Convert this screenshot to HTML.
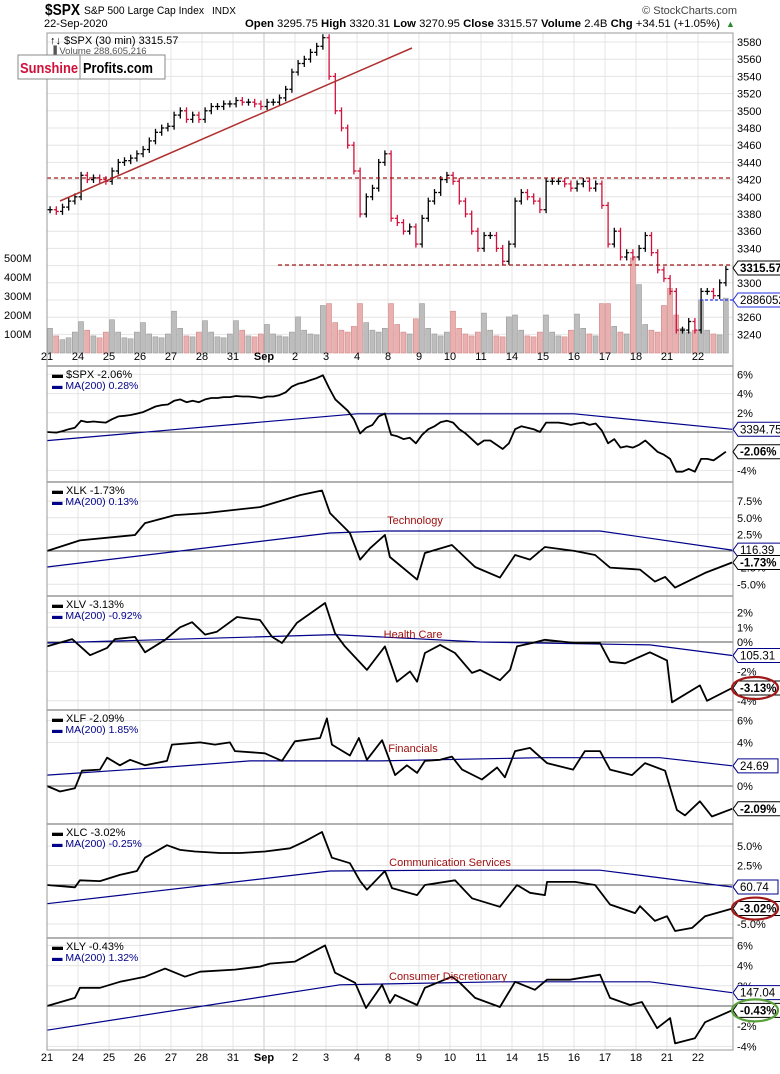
<!DOCTYPE html>
<html><head><meta charset="utf-8"><style>
html,body{margin:0;padding:0;background:#fff;}
body{width:780px;height:1069px;overflow:hidden;font-family:"Liberation Sans",sans-serif;}
svg text{font-family:"Liberation Sans",sans-serif;}
</style></head><body>
<svg id="chart" width="780" height="1069" viewBox="0 0 780 1069" xmlns="http://www.w3.org/2000/svg">
<rect x="0" y="0" width="780" height="1069" fill="#fff"/>
<g>
<text x="45" y="15" font-size="16" font-weight="bold" fill="#000" textLength="35" lengthAdjust="spacingAndGlyphs">$SPX</text>
<text x="84" y="14" font-size="11" fill="#000" textLength="120" lengthAdjust="spacingAndGlyphs">S&amp;P 500 Large Cap Index</text>
<text x="212" y="14" font-size="10" fill="#000">INDX</text>
<text x="44" y="27" font-size="11" fill="#000">22-Sep-2020</text>
<text x="245" y="27" font-size="11" fill="#000" textLength="475" lengthAdjust="spacingAndGlyphs"><tspan font-weight="bold">Open</tspan> 3295.75 <tspan font-weight="bold">High</tspan> 3320.31 <tspan font-weight="bold">Low</tspan> 3270.95 <tspan font-weight="bold">Close</tspan> 3315.57 <tspan font-weight="bold">Volume</tspan> 2.4B <tspan font-weight="bold">Chg</tspan> +34.51 (+1.05%)</text>
<text x="726" y="27" font-size="9" fill="#2a8a2a">▲</text>
<text x="737" y="14" font-size="11" fill="#444" text-anchor="end">© StockCharts.com</text>
</g>
<g id="grid"></g>
<g id="marks"></g>
<g id="labels"></g>
<g>
<rect x="18" y="55" width="147" height="24" fill="#fff" stroke="#888"/>
<line x1="80" y1="55" x2="80" y2="79" stroke="#888"/>
<text x="20" y="73" font-size="15" font-weight="bold" fill="#d0103a" textLength="58" lengthAdjust="spacingAndGlyphs">Sunshine</text>
<text x="83" y="73" font-size="15" font-weight="bold" fill="#000" textLength="70" lengthAdjust="spacingAndGlyphs">Profits.com</text>
</g>
</svg>
<script>
// ---- data ----
const dayLabels = ["21","24","25","26","27","28","31","Sep","2","3","4","8","9","10","11","14","15","16","17","18","21","22"];
const priceCloses = [
3385,3383,3388,3395,3400, 3425,3420,3422,3420,3418, 3430,3440,3442,3445,3450,
3455,3465,3475,3480,3482, 3495,3500,3490,3495,3490, 3500,3505,3505,3508,3508,
3512,3510,3510,3508,3505, 3510,3510,3515,3525,3545, 3555,3560,3568,3575,3585,
3540,3500,3480,3460,3430, 3380,3400,3410,3440,3450, 3375,3370,3360,3365,3345,
3375,3395,3405,3420,3425, 3418,3395,3380,3360,3340, 3355,3355,3340,3325,3345,
3395,3405,3400,3395,3385, 3418,3418,3418,3415,3410, 3415,3418,3410,3415,3390,
3345,3360,3330,3335,3330, 3340,3355,3335,3315,3305, 3290,3245,3245,3255,3245,
3290,3290,3285,3300,3315.57];
const volumesM = [
130,90,70,80,110, 165,120,90,80,110, 175,110,80,75,110, 160,100,85,80,100,
220,130,90,85,110, 170,110,85,80,100, 170,120,90,85,100, 150,100,90,85,110,
190,120,100,95,250, 260,160,120,110,140, 260,160,120,110,130, 260,150,110,100,180,
260,130,100,90,110, 220,130,100,90,110, 210,120,90,85,190, 200,120,90,85,110,
200,110,90,85,120, 205,130,100,90,260, 260,140,110,100,500, 360,150,120,110,250,
340,200,130,110,120, 280,120,100,95,288.6];
const spxMaT = [0,10,17,22.1];
const spxMaV = [-0.9,1.9,1.9,0.28];
const xlkT = [0,1.06,2.84,3.16,4.13,5.1,6.87,8.16,8.87,9.13,9.77,10.1,10.42,10.9,11.06,11.94,12.19,13.06,13.81,14.61,15.1,15.58,16.06,17.03,17.68,18.16,19.13,19.61,19.94,20.26,21.23,22.1];
const xlkV = [0,1.6,2.4,4.2,5.4,5.7,6.6,8.4,9.1,5.7,2.7,-1.3,0.4,2.4,-0.9,-4.3,-0.3,0.9,-2.4,-4.0,-0.6,-1.3,0.6,0,-0.6,-2.5,-2.8,-4.6,-3.9,-5.5,-3.3,-1.73];
const xlkMaT = [0,9.13,10.9,17.84,22.1];
const xlkMaV = [-2.4,2.7,3.0,3.0,0.13];
const xlvT = [0,0.81,1.39,1.94,2.19,2.84,3.16,3.81,4.29,4.68,5.1,5.48,6.13,6.87,7.26,7.58,8.06,8.97,9.29,9.61,10.32,10.9,11.29,11.71,11.94,12.19,12.68,13.16,13.71,13.97,14.61,14.94,15.16,15.65,16.06,17.03,17.84,18.16,18.65,19.45,20.0,20.16,21.06,21.29,22.1];
const xlvV = [-0.3,0.2,-0.9,-0.4,0.2,0.35,-0.7,0.15,1.0,1.35,0.5,0.7,1.7,1.5,0.35,-0.07,1.3,2.65,0.6,-0.3,-1.9,-0.3,-2.7,-2.0,-2.7,-0.75,-0.2,-0.75,-2.1,-1.9,-2.6,-1.9,-0.3,-0.07,0.15,-0.07,-0.07,-1.35,-1.45,-0.7,-1.25,-4.1,-2.95,-4.0,-3.13];
const xlvMaT = [0,9.29,13.97,19.45,22.1];
const xlvMaV = [-0.07,0.5,0,-0.2,-0.92];
const xlfT = [0,0.42,0.9,1.13,1.71,1.94,2.35,2.68,3.16,3.87,4.03,4.94,5.42,5.9,6.06,7.03,7.58,8.0,8.81,9.03,9.19,9.77,10.06,10.32,10.81,11.23,11.61,11.94,12.19,12.68,13.06,13.39,14.03,14.52,14.77,15.1,15.58,16.13,16.97,17.35,17.84,18.16,18.87,19.29,19.94,20.32,20.58,21.06,21.45,22.1];
const xlfV = [0,-0.5,-0.2,1.4,1.5,2.6,1.9,2.4,1.9,2.3,3.8,4.0,3.8,4.0,3.2,3.0,2.3,4.1,4.4,6.2,3.8,2.8,4.4,2.4,4.2,1.0,1.9,1.2,2.3,2.4,2.7,1.5,0.6,1.7,0.8,3.2,3.5,2.1,1.5,3.2,3.2,1.5,1.0,2.1,1.4,-2.2,-2.7,-1.4,-2.8,-2.09];
const xlfMaT = [0,3.97,6.55,10.74,15.9,19.77,22.1];
const xlfMaV = [1.0,1.75,2.3,2.3,2.6,2.6,1.85];
const xlcT = [0,0.9,1.06,1.71,2.35,2.9,3.16,3.87,4.29,4.77,5.58,6.23,7.03,7.84,8.32,8.87,9.19,9.77,10.1,10.32,10.9,11.13,11.94,12.19,13.16,13.71,14.61,15.16,15.58,16.06,16.13,17.03,17.68,18.16,18.97,19.13,19.61,20.0,20.26,20.81,21.23,22.1];
const xlcV = [0,-0.3,0.6,0.5,1.3,1.8,3.5,5.1,4.5,4.3,4.1,4.1,4.3,4.7,5.6,6.8,3.5,2.8,0.5,-0.6,1.8,-0.4,-1.3,0,0.6,-1.7,-2.8,0,-1.0,-1.3,0.4,0.4,0,-2.5,-3.6,-2.7,-4.6,-4.0,-5.9,-5.5,-4.0,-3.02];
const xlcMaT = [0,9.13,13.0,17.84,22.1];
const xlcMaV = [-2.4,1.8,1.9,1.9,-0.25];
const xlyT = [0,0.9,1.06,1.71,2.35,3.16,3.81,4.45,4.94,6.06,6.87,7.19,8.0,8.97,9.29,9.94,10.29,10.81,11.06,11.23,11.94,12.19,13.06,13.32,13.81,14.61,15.1,15.74,16.13,16.87,17.84,18.16,18.81,19.19,19.68,20.1,20.26,20.9,21.23,22.1];
const xlyV = [0,0.8,1.8,1.8,2.4,2.9,3.7,2.9,3.4,3.6,3.9,4.2,4.4,6.0,3.3,2.3,-0.2,2.1,0.3,1.1,0.1,1.8,2.9,2.3,0.8,-0.1,2.4,1.6,2.6,2.6,3.1,0.8,0.1,0.4,-2.2,-1.2,-3.7,-3.2,-1.6,-0.43];
const xlyMaT = [0,9.45,14.61,19.45,22.1];
const xlyMaV = [-2.4,2.1,2.4,2.4,1.32];

// ---- layout ----
const L = 47, R = 733, DAYW = 31;
const NS = "http://www.w3.org/2000/svg";
const grid = document.getElementById('grid'), marks = document.getElementById('marks'), labels = document.getElementById('labels');
function mk(tag, attrs, parent){ const e=document.createElementNS(NS,tag); for(const k in attrs) e.setAttribute(k,attrs[k]); parent.appendChild(e); return e; }
function xT(t){ return L + t*DAYW; }
const priceY = v => 42 + (3580 - v)*0.86;
const volY = m => 353 - m*0.19;

const panels = [
 {name:'spx', top:366, bot:482, zero:432, ppu:9.6, ticks:[6,4,2,-4], fmt:v=>v+'%', t:null, v:null, mt:spxMaT, mv:spxMaV, label:'$SPX -2.06%', ma:'MA(200) 0.28%', title:'', maTag:'3394.75', tag:'-2.06%', ring:null},
 {name:'xlk', top:482, bot:596, zero:551, ppu:6.65, ticks:[7.5,5,2.5,-2.5,-5], fmt:v=>v.toFixed(1)+'%', t:xlkT, v:xlkV, mt:xlkMaT, mv:xlkMaV, label:'XLK -1.73%', ma:'MA(200) 0.13%', title:'Technology', maTag:'116.39', tag:'-1.73%', ring:null},
 {name:'xlv', top:596, bot:710, zero:642, ppu:14.7, ticks:[2,1,0,-2,-4], fmt:v=>v+'%', t:xlvT, v:xlvV, mt:xlvMaT, mv:xlvMaV, label:'XLV -3.13%', ma:'MA(200) -0.92%', title:'Health Care', maTag:'105.31', tag:'-3.13%', ring:'#a01818'},
 {name:'xlf', top:710, bot:824, zero:786, ppu:10.9, ticks:[6,4,0], fmt:v=>v+'%', t:xlfT, v:xlfV, mt:xlfMaT, mv:xlfMaV, label:'XLF -2.09%', ma:'MA(200) 1.85%', title:'Financials', maTag:'24.69', tag:'-2.09%', ring:null},
 {name:'xlc', top:824, bot:938, zero:885, ppu:7.8, ticks:[5,2.5,-2.5,-5], fmt:v=>v.toFixed(1)+'%', t:xlcT, v:xlcV, mt:xlcMaT, mv:xlcMaV, label:'XLC -3.02%', ma:'MA(200) -0.25%', title:'Communication Services', maTag:'60.74', tag:'-3.02%', ring:'#a01818'},
 {name:'xly', top:938, bot:1050, zero:1006, ppu:10.1, ticks:[6,4,2,-2,-4], fmt:v=>v+'%', t:xlyT, v:xlyV, mt:xlyMaT, mv:xlyMaV, label:'XLY -0.43%', ma:'MA(200) 1.32%', title:'Consumer Discretionary', maTag:'147.04', tag:'-0.43%', ring:'#5aa03a'}
];

// vertical day grid
dayLabels.forEach((d,i)=>{
  const x = xT(i);
  const vl = mk('line',{x1:x,y1:33,x2:x,y2:1050,stroke:d==='Sep'?'#c8c8c8':'#e4e4e4','stroke-width':1},grid);
  
  
  [360,1061].forEach(yy=>{
    const tx = mk('text',{x:x,y:yy,'font-size':11,'text-anchor':'middle','font-weight':d==='Sep'?'bold':'normal',fill:'#000'},labels);
    tx.textContent=d;
    
    
  });
});

// main price panel grid + ticks
for(let v=3240; v<=3580; v+=20){
  const y=priceY(v);
  const g=mk('line',{x1:L,y1:y,x2:R,y2:y,stroke:'#e4e4e4'},grid);
  
  
  const tx=mk('text',{x:737,y:y+4,'font-size':11,fill:'#000'},labels);
  tx.textContent=v;
  
  
}
const volTicks=[100,200,300,400,500];
volTicks.forEach(m=>{
  const tx=mk('text',{x:4,y:volY(m)+4,'font-size':11,fill:'#000'},labels);
  tx.textContent=m+'M';
  
  
});

// volume bars
const n = priceCloses.length;
const barStep = (22*DAYW)/n;
volumesM.forEach((m,i)=>{
  const up = i===0 || priceCloses[i]>=priceCloses[i-1];
  const x = L + i*barStep;
  const b=mk('rect',{x:x+0.5,y:volY(m),width:barStep-1.2,height:353-volY(m),fill:up?'#bdbdbd':'#eab0b0',stroke:up?'#9a9a9a':'#d08888','stroke-width':0.6},marks);
  
  
});
// OHLC bars
priceCloses.forEach((c,i)=>{
  const o = i===0 ? c : priceCloses[i-1];
  const hi=Math.max(o,c)+4, lo=Math.min(o,c)-4;
  const col = (i===0||c>=o)?'#000':'#d0103a';
  const x = L + (i+0.5)*barStep;
  const g=mk('g',{stroke:col,'stroke-width':1.3},marks);
  
  
  mk('line',{x1:x,y1:priceY(hi),x2:x,y2:priceY(lo)},g);
  mk('line',{x1:x-2.5,y1:priceY(o),x2:x,y2:priceY(o)},g);
  mk('line',{x1:x,y1:priceY(c),x2:x+2.5,y2:priceY(c)},g);
});
// trend & level lines
const tl=mk('line',{x1:60,y1:201,x2:412,y2:48,stroke:'#b03030','stroke-width':1.5},marks);


const r1=mk('line',{x1:L,y1:178,x2:R,y2:178,stroke:'#a01818','stroke-dasharray':'4,3','stroke-width':1.2},marks);


const r2=mk('line',{x1:278,y1:265,x2:R,y2:265,stroke:'#a01818','stroke-dasharray':'4,3','stroke-width':1.2},marks);


const vb=mk('line',{x1:700,y1:300,x2:R,y2:300,stroke:'#2030e0','stroke-dasharray':'3,2','stroke-width':1.2},marks);



function tag(y, text, color, bold, name){
  const g=mk('g',{},labels);
  
  
  const w = text.length*7.2+4;
  mk('path',{d:`M733 ${y} L738 ${y-7} L${738+w} ${y-7} L${738+w} ${y+7} L738 ${y+7} Z`,fill:'#fff',stroke:color,'stroke-width':1},g);
  const t=mk('text',{x:740,y:y+4,'font-size':11.5,'font-weight':bold?'bold':'normal',fill:'#000'},g);
  t.textContent=text;
}
tag(268,'3315.57','#000',true,'last-price-tag');
tag(300,'2886052','#2030e0',false,'volume-tag');

// main legend
const lg1=mk('text',{x:50,y:44,'font-size':11,fill:'#000'},labels); lg1.textContent='\u2191\u2193 $SPX (30 min) 3315.57';
 
const lg2=mk('text',{x:50,y:54,'font-size':9.5,fill:'#555'},labels); lg2.textContent='\u2590 Volume 288,605,216';
 

// indicator panels
function pathFrom(ts, vs, p){
  return ts.map((t,i)=>(i?'L':'M')+xT(t).toFixed(1)+' '+(p.zero - vs[i]*p.ppu).toFixed(1)).join(' ');
}
panels.forEach(p=>{
  p.ticks.forEach(v=>{
    const y=p.zero - v*p.ppu;
    const g=mk('line',{x1:L,y1:y,x2:R,y2:y,stroke:'#e4e4e4'},grid);
    
    
    const tx=mk('text',{x:737,y:y+4,'font-size':11,fill:'#000'},labels);
    tx.textContent=p.fmt(v);
    
    
  });
  const zl=mk('line',{x1:L,y1:p.zero,x2:R,y2:p.zero,stroke:'#555','stroke-width':1},marks);
  
  
  const sep=mk('line',{x1:L,y1:p.top,x2:R,y2:p.top,stroke:'#999','stroke-width':1.5},marks);
  
  
  let ts=p.t, vs=p.v;
  if(!ts){ ts=priceCloses.map((c,i)=>(i+0.5)/5); ts[0]=0; vs=priceCloses.map(c=>(c/priceCloses[0]-1)*100); }
  const ma=mk('path',{d:pathFrom(p.mt,p.mv,p),fill:'none',stroke:'#00008b','stroke-width':1.2},marks);
  
  
  const ln=mk('path',{d:pathFrom(ts,vs,p),fill:'none',stroke:'#000','stroke-width':1.8,'stroke-linejoin':'round'},marks);
  
  
  const a=mk('text',{x:52,y:p.top+12,'font-size':11,fill:'#000'},labels); a.textContent='\u25AC '+p.label;
   
  const b=mk('text',{x:52,y:p.top+23,'font-size':10.5,fill:'#00008b'},labels); b.textContent='\u25AC '+p.ma;
   
  if(p.title){
    const tt=mk('text',{x:415,y:p.top+42,'font-size':11,fill:'#a01010','text-anchor':'middle'},labels);
    tt.setAttribute('x', p.name==='xlk'?415:p.name==='xlv'?413:p.name==='xlf'?413:p.name==='xlc'?450:448);
    tt.textContent=p.title;
     
  }
  const lastV = vs[vs.length-1], lastM = p.mv[p.mv.length-1];
  tag(p.zero - lastM*p.ppu, p.maTag, '#00008b', false, p.name+'-ma-tag');
  tag(p.zero - lastV*p.ppu, p.tag, '#000', true, p.name+'-value-tag');
  if(p.ring){
    const e=mk('ellipse',{cx:755,cy:p.zero - lastV*p.ppu,rx:23,ry:11,fill:'none',stroke:p.ring,'stroke-width':2.2},labels);
     
  }
});
// frame
const fr=mk('rect',{x:L,y:33,width:R-L,height:1050-33,fill:'none',stroke:'#999','stroke-width':1},marks);


</script>
</body></html>
